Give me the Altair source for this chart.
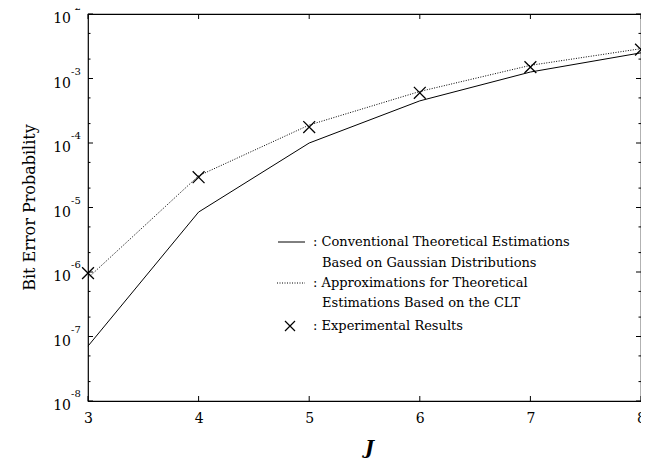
import altair as alt
import pandas as pd

# ---------------- data ----------------
J = [3, 4, 5, 6, 7, 8]
conventional = [7.1e-8, 8.5e-6, 1.0e-4, 4.5e-4, 1.26e-3, 2.5e-3]
clt_approx = [8.1e-7, 3.1e-5, 1.9e-4, 6.3e-4, 1.6e-3, 2.9e-3]
experimental = [9.6e-7, 2.95e-5, 1.77e-4, 6.0e-4, 1.5e-3, 2.8e-3]

decade_exps = [-8, -7, -6, -5, -4, -3, -2]
minor_mults = [2, 5]

legend_texts = [
    ": Conventional Theoretical Estimations",
    "Based on Gaussian Distributions",
    ": Approximations for Theoretical",
    "Estimations Based on the CLT",
    ": Experimental Results",
]
x_title = "J"
y_title = "Bit Error Probability"

# ---------------- layout ----------------
W = 553
H = 387
FONT = "DejaVu Serif"

df_conv = pd.DataFrame({"J": J, "P": conventional})
df_clt = pd.DataFrame({"J": J, "P": clt_approx})
df_exp = pd.DataFrame({"J": J, "P": experimental})
df_major = pd.DataFrame({
    "P": [10.0 ** e for e in decade_exps],
    "base": ["10"] * len(decade_exps),
    "exp": [str(e) for e in decade_exps],
})
df_minor = pd.DataFrame({
    "P": [m * 10.0 ** e for e in decade_exps[:-1] for m in minor_mults]
})
df_x = pd.DataFrame({"J": J})

xscale = alt.Scale(domain=[3, 8], nice=False, zero=False)
yscale = alt.Scale(type="log", domain=[1e-8, 1e-2], nice=False)

x_enc = alt.X("J:Q", scale=xscale, title=x_title,
              axis=alt.Axis(values=J, ticks=False, domain=False, grid=False,
                            labelFont=FONT, labelFontSize=14, labelColor="black",
                            labelPadding=10, format="d", labelFlush=False,
                            labelOverlap=False,
                            titleFont=FONT, titleFontSize=19, titleFontStyle="italic",
                            titleFontWeight="bold", titleColor="black",
                            titleX=281, titleY=46, titleBaseline="middle",
                            titleAlign="center"))
y_enc = alt.Y("P:Q", scale=yscale, axis=None)

solid = alt.Chart(df_conv).mark_line(color="black", strokeWidth=1).encode(x=x_enc, y=y_enc)
dotted = alt.Chart(df_clt).mark_line(color="black", strokeWidth=1, strokeDash=[1, 1.5]).encode(x=x_enc, y=y_enc)
XPATH = "M-1,-1L1,1M1,-1L-1,1"
points = alt.Chart(df_exp).mark_point(shape=XPATH, size=140, filled=False, stroke="black",
                                      strokeWidth=1.3, opacity=1, clip=False).encode(x=x_enc, y=y_enc)

# inward ticks on all four sides
def yrule(df, x0, x1):
    return alt.Chart(df).mark_rule(color="black", strokeWidth=1).encode(
        y=y_enc, x=alt.value(x0), x2=alt.value(x1))

def xrule(y0, y1):
    return alt.Chart(df_x).mark_rule(color="black", strokeWidth=1).encode(
        x=x_enc, y=alt.value(y0), y2=alt.value(y1))

ticks = [
    yrule(df_major, 0, 5), yrule(df_major, W - 5, W),
    yrule(df_minor, 0, 2.5), yrule(df_minor, W - 2.5, W),
    xrule(H, H - 5), xrule(0, 5),
]

lab_base = alt.Chart(df_major).mark_text(align="right", baseline="middle", font=FONT,
                                         fontSize=14, color="black", dy=5).encode(
    y=y_enc, x=alt.value(-17), text="base:N")
lab_exp = alt.Chart(df_major).mark_text(align="left", baseline="middle", font=FONT,
                                        fontSize=10, color="black", dy=-7).encode(
    y=y_enc, x=alt.value(-17), text="exp:N")

ytitle = alt.Chart(pd.DataFrame({"t": [y_title]})).mark_text(
    angle=270, align="center", baseline="middle", font=FONT, fontSize=16, color="black"
).encode(text="t:N", x=alt.value(-58), y=alt.value(H / 2))

# legend
one = pd.DataFrame({"a": [0]})
def ltext(s, x, y):
    return alt.Chart(pd.DataFrame({"t": [s]})).mark_text(
        align="left", baseline="middle", font=FONT, fontSize=13, color="black"
    ).encode(text="t:N", x=alt.value(x), y=alt.value(y))

leg_solid = alt.Chart(one).mark_rule(color="black", strokeWidth=1).encode(
    x=alt.value(190), x2=alt.value(217), y=alt.value(228))
leg_dot = alt.Chart(one).mark_rule(color="black", strokeWidth=1, strokeDash=[1, 1.5]).encode(
    x=alt.value(189), x2=alt.value(217), y=alt.value(269))
leg_x = alt.Chart(one).mark_point(shape=XPATH, size=100, filled=False, stroke="black",
                                  strokeWidth=1.2, opacity=1).encode(
    x=alt.value(202), y=alt.value(312))

legend = [
    leg_solid, leg_dot, leg_x,
    ltext(legend_texts[0], 225, 228),
    ltext(legend_texts[1], 234, 249),
    ltext(legend_texts[2], 225, 269),
    ltext(legend_texts[3], 234, 289),
    ltext(legend_texts[4], 225, 312),
]

chart = alt.layer(solid, dotted, points, *ticks, lab_base, lab_exp, ytitle, *legend).properties(
    width=W, height=H,
    autosize=alt.AutoSizeParams(type="none"),
    padding={"left": 80, "top": 6, "right": 0, "bottom": 60},
    background="white",
).configure_view(stroke="black", strokeWidth=1.2)

chart.save("out.html", embed_options={"renderer": "svg", "actions": False})
